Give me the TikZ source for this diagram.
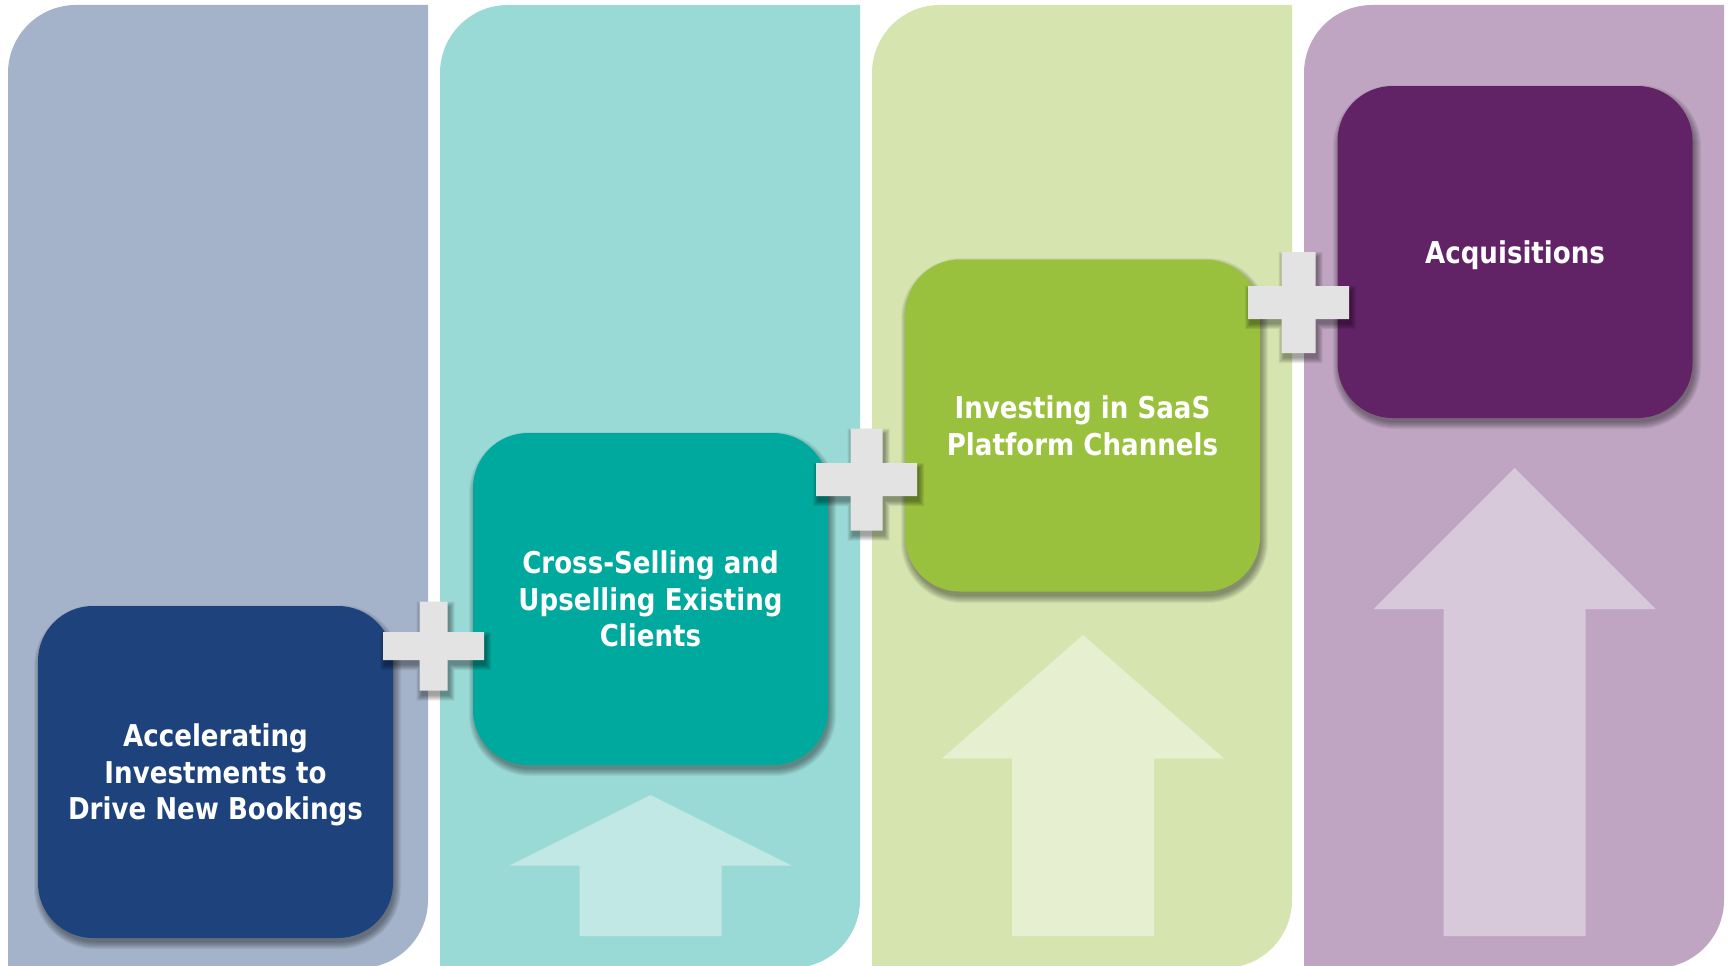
\documentclass[tikz,border=0pt]{standalone}
\usepackage{fontspec}
\newfontfamily\labelfont{DejaVu Sans}[FakeStretch=0.87]

\definecolor{laneA}{HTML}{A4B3CA}
\definecolor{laneB}{HTML}{9ADAD6}
\definecolor{laneC}{HTML}{D6E5B0}
\definecolor{laneD}{HTML}{BFA5C2}
\definecolor{boxA}{HTML}{1E437C}
\definecolor{boxB}{HTML}{00A99D}
\definecolor{boxC}{HTML}{9AC13E}
\definecolor{boxD}{HTML}{622366}
\definecolor{plusgray}{HTML}{E3E3E3}

\tikzset{
  stepbox/.style={rounded corners=55pt, inner sep=0pt, align=center,
    minimum width=355pt, minimum height=332pt, text=white, text depth=0pt,
    font=\labelfont\bfseries\fontsize{30}{36.5}\selectfont},
  growarrow/.style={fill=white, opacity=0.4},
}

% soft drop shadow behind a rounded box: x1 y1 x2 y2 radius
\newcommand\softshadow[5]{%
  \foreach \e in {-1,...,6}{%
    \fill[black,opacity=0.055,rounded corners={(#5+\e)*1pt}]
      ({#1+2-\e},{#2+5-\e}) rectangle ({#3+2+\e},{#4+5+\e});
  }}

% plus sign with its shadow: cx cy, half sizes of the bar across, half sizes of the upright bar
\newcommand\plusmark[6]{%
  \foreach \e in {0,...,5}{%
    \fill[black,opacity=0.07]
      ({#1-#3+2-\e},{#2-#4+5-\e}) rectangle ({#1+#3+2+\e},{#2+#4+5+\e})
      ({#1-#5+2-\e},{#2-#6+5-\e}) rectangle ({#1+#5+2+\e},{#2+#6+5+\e});
  }
  \fill[plusgray]
    ({#1-#3},{#2-#4}) rectangle ({#1+#3},{#2+#4})
    ({#1-#5},{#2-#6}) rectangle ({#1+#5},{#2+#6});
}

\begin{document}
\begin{tikzpicture}[x=1pt,y=-1pt]
\clip (0,0) rectangle (1729,966);
\fill[white] (0,0) rectangle (1729,966);

% four lanes, rounded at top-left and bottom-right
\foreach \lx/\c in {8/laneA,440/laneB,872/laneC,1304/laneD}{
  \fill[\c] (\lx,73) arc[start angle=180,end angle=270,radius=68]
    -- ++(352,0) -- ++(0,895) arc[start angle=0,end angle=90,radius=68]
    -- (\lx,968) -- cycle;
}

% upward arrows growing from lane to lane
\foreach \cx/\tip/\base in {650.5/795/865.5, 1083/635/758.5, 1514.5/468/609}{
  \fill[growarrow] (\cx,\tip) -- ({\cx+141},\base) -- ({\cx+71},\base)
    -- ({\cx+71},936) -- ({\cx-71},936) -- ({\cx-71},\base)
    -- ({\cx-141},\base) -- cycle;
}

% shadows of the step boxes
\softshadow{38}{606}{393}{938}{55}
\softshadow{473}{433}{828}{765}{55}
\softshadow{905}{259}{1260}{592}{55}
\softshadow{1337}{86}{1693}{418}{55}

% step boxes
\node[stepbox, fill=boxA] (accel) at (215.5,772)
  {Accelerating\\Investments to\\Drive New Bookings};
\node[stepbox, fill=boxB] (cross) at (650.5,599)
  {Cross-Selling and\\Upselling Existing\\Clients};
\node[stepbox, fill=boxC] (saas) at (1082.5,425.5)
  {Investing in SaaS\\Platform Channels};
\node[stepbox, fill=boxD] (acq) at (1515,252)
  {Acquisitions};

% plus signs between the steps
\plusmark{433.5}{646}{50.5}{14}{14}{44.5}
\plusmark{866.5}{479.5}{50.5}{16.5}{16}{51}
\plusmark{1298.5}{302.5}{50.5}{16.5}{17}{50.5}
\end{tikzpicture}
\end{document}
